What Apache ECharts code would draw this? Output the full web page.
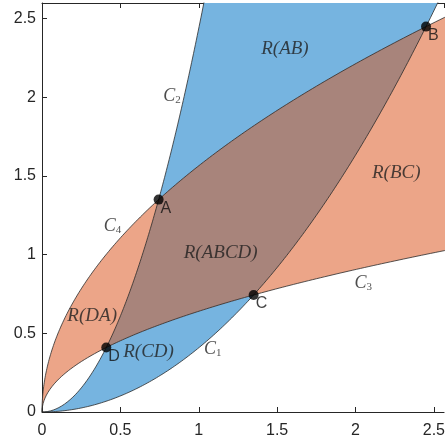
<!DOCTYPE html>
<html>
<head>
<meta charset="utf-8">
<script src="https://cdn.jsdelivr.net/npm/echarts@6/dist/echarts.min.js"></script>
<style>
  html, body { margin: 0; padding: 0; background: #fff; }
  #chart { width: 448px; height: 442px; }
</style>
</head>
<body>
<div id="chart"></div>
<script>
// Curve families: x^2 = k*y (C2, C1) and y^2 = k*x (C3, C4)
const kX2 = [0.41, 2.45];          // C2, C1
const kY2 = [0.41, 2.45];          // C3, C4
const xTicks = [0, 0.5, 1, 1.5, 2, 2.5];
const yTicks = [0, 0.5, 1, 1.5, 2, 2.5];

const regionNames = ['R(AB)', 'R(BC)', 'R(ABCD)', 'R(DA)', 'R(CD)'];
const regionLabelPos = [[1.55, 2.31], [2.26, 1.52], [1.14, 1.01], [0.32, 0.61], [0.68, 0.38]];
const curveNames = ['1', '2', '3', '4'];
const curveLabelPos = [[1.09, 0.40], [0.83, 2.01], [2.05, 0.82], [0.45, 1.18]];
const pointNames = ['A', 'B', 'C', 'D'];

const BLUE = '#76b4e0', RED = '#eca588', DARK = '#a8847b', EDGE = '#2b2b2b';
const SERIF = 'Liberation Serif, Times New Roman, serif';
const SANS = 'Liberation Sans, Arial, sans-serif';

// intersection of y^2 = p*x and x^2 = q*y
function meet(p, q) {
  return [Math.cbrt(p * q * q), Math.cbrt(p * p * q)];
}
const A = meet(kY2[1], kX2[0]);
const B = meet(kY2[1], kX2[1]);
const C = meet(kY2[0], kX2[1]);
const D = meet(kY2[0], kX2[0]);
const pts = [A, B, C, D];

const N = 240;
// x^2 = k*y, x from x0 to x1
function parabX(k, x0, x1) {
  const out = [];
  for (let i = 0; i <= N; i++) { const x = x0 + (x1 - x0) * i / N; out.push([x, x * x / k]); }
  return out;
}
// y^2 = k*x, y from y0 to y1
function parabY(k, y0, y1) {
  const out = [];
  for (let i = 0; i <= N; i++) { const y = y0 + (y1 - y0) * i / N; out.push([y * y / k, y]); }
  return out;
}
const FAR = 5;
const bluePoly = parabX(kX2[0], 0, Math.sqrt(kX2[0] * FAR)).concat(parabX(kX2[1], Math.sqrt(kX2[1] * FAR), 0));
const redPoly = parabY(kY2[1], 0, Math.sqrt(kY2[1] * FAR)).concat(parabY(kY2[0], Math.sqrt(kY2[0] * FAR), 0));
const overlapPoly = parabY(kY2[1], A[1], B[1])
  .concat(parabX(kX2[1], B[0], C[0]))
  .concat(parabY(kY2[0], C[1], D[1]))
  .concat(parabX(kX2[0], D[0], A[0]));

const curveLines = [
  parabX(kX2[1], 0, Math.sqrt(kX2[1] * FAR)),  // C1
  parabX(kX2[0], 0, Math.sqrt(kX2[0] * FAR)),  // C2
  parabY(kY2[0], 0, Math.sqrt(kY2[0] * FAR)),  // C3
  parabY(kY2[1], 0, Math.sqrt(kY2[1] * FAR))   // C4
];

const chart = echarts.init(document.getElementById('chart'), null, { renderer: 'canvas' });

const tickFmt = v => {
  const hit = xTicks.concat(yTicks).some(t => Math.abs(t - v) < 1e-9);
  return hit ? String(v) : '';
};
const axisCommon = {
  axisLine: { show: true, onZero: false, lineStyle: { color: '#262626', width: 1 } },
  axisTick: { show: true, inside: true, length: 5, lineStyle: { color: '#262626' } },
  splitLine: { show: false },
  axisLabel: { fontFamily: SANS, fontSize: 16, color: '#262626', formatter: tickFmt, showMaxLabel: false }
};

const series = [];
series.push({
  type: 'custom',
  coordinateSystem: 'cartesian2d',
  clip: true,
  z: 2,
  silent: true,
  data: [[0, 0]],
  renderItem: function (params, api) {
    const toPx = arr => arr.map(p => api.coord(p));
    return {
      type: 'group',
      children: [
        { type: 'polygon', shape: { points: toPx(bluePoly) }, style: { fill: BLUE } },
        { type: 'polygon', shape: { points: toPx(redPoly) }, style: { fill: RED } },
        { type: 'polygon', shape: { points: toPx(overlapPoly) }, style: { fill: DARK } }
      ]
    };
  }
});
curveLines.forEach(line => {
  series.push({
    type: 'line', data: line, showSymbol: false, symbol: 'none', z: 3, silent: true,
    clip: true, lineStyle: { color: EDGE, width: 0.8 }
  });
});
series.push({
  type: 'scatter', z: 5, symbolSize: 10, itemStyle: { color: '#000' }, silent: true,
  data: pts.map((p, i) => ({ value: p, name: pointNames[i] })),
  label: {
    show: true, formatter: '{b}', position: 'right', distance: -3, offset: [0, 9],
    fontFamily: SANS, fontSize: 16, color: '#111'
  }
});
series.push({
  type: 'scatter', z: 6, symbolSize: 0, silent: true,
  data: regionLabelPos.map((p, i) => ({ value: p, name: regionNames[i] })),
  label: {
    show: true, position: 'inside', formatter: '{b}',
    fontFamily: SERIF, fontStyle: 'italic', fontSize: 19, color: '#1f1f1f'
  }
});
series.push({
  type: 'scatter', z: 6, symbolSize: 0, silent: true,
  data: curveLabelPos.map((p, i) => ({ value: p, name: curveNames[i] })),
  label: {
    show: true, position: 'inside', formatter: p => '{c|C}{s|' + p.name + '}',
    rich: {
      c: { fontFamily: SERIF, fontStyle: 'italic', fontSize: 18, color: '#1f1f1f', lineHeight: 20 },
      s: { fontFamily: SERIF, fontSize: 11, color: '#1f1f1f', padding: [8, 0, 0, 0], lineHeight: 20 }
    }
  }
});

chart.setOption({
  animation: false,
  backgroundColor: '#fff',
  grid: { left: 42, top: 3, right: 0, bottom: 30, containLabel: false },
  xAxis: [
    Object.assign({ type: 'value', min: 0, max: 2.565, interval: 0.5, position: 'bottom' }, axisCommon,
      { axisLabel: Object.assign({}, axisCommon.axisLabel, { margin: 11 }) }),
    Object.assign({ type: 'value', min: 0, max: 2.565, interval: 0.5, position: 'top' }, axisCommon,
      { axisLabel: { show: false } })
  ],
  yAxis: [
    Object.assign({ type: 'value', min: 0, max: 2.6, interval: 0.5 }, axisCommon,
      { axisLabel: Object.assign({}, axisCommon.axisLabel, { margin: 6 }) })
  ],
  series: series
});
</script>
</body>
</html>
